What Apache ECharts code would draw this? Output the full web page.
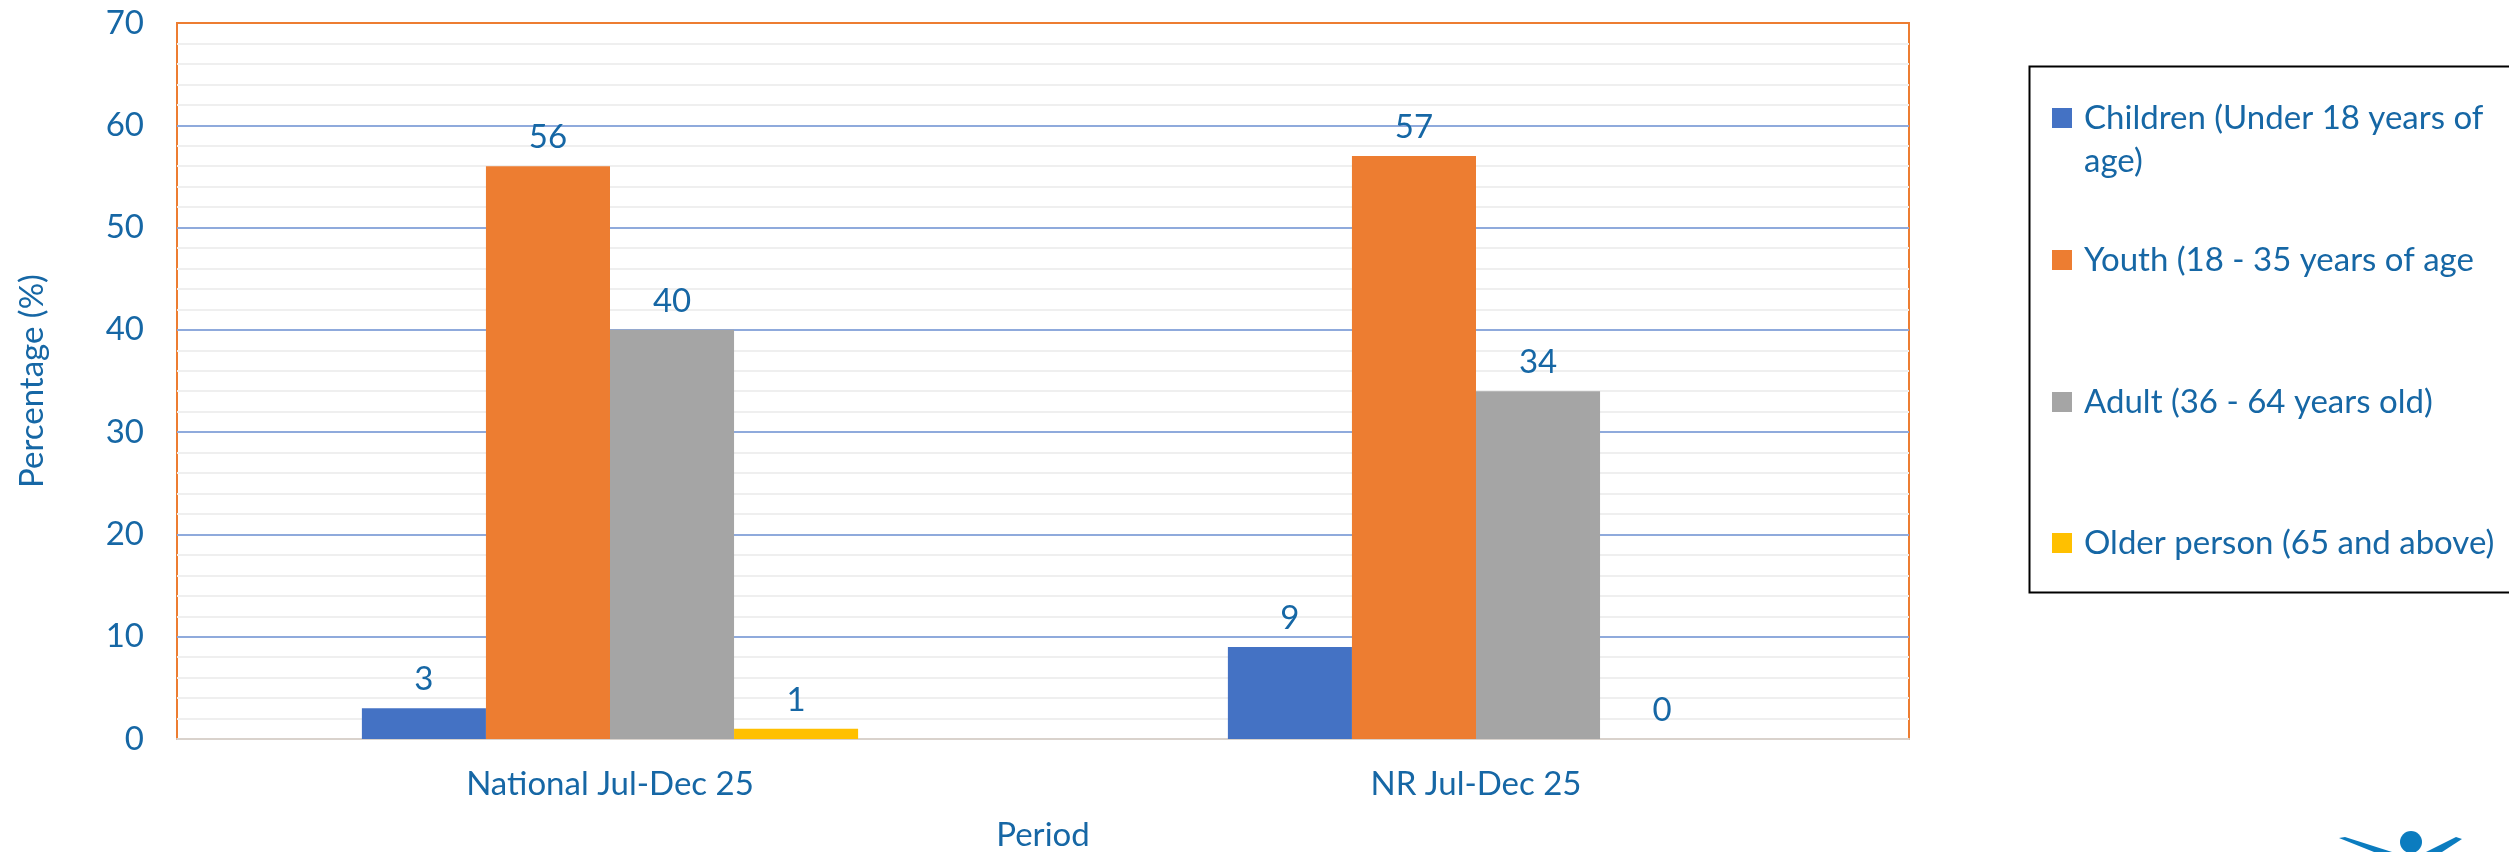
<!DOCTYPE html>
<html>
<head>
<meta charset="utf-8">
<script src="https://cdn.jsdelivr.net/npm/echarts@6/dist/echarts.min.js"></script>
<style>
  html, body { margin: 0; padding: 0; background: #fff; }
  #chart { width: 2509px; height: 852px; }
</style>
</head>
<body>
<div id="chart"></div>
<script>
const periods = ['National Jul-Dec 25', 'NR Jul-Dec 25'];
const groupNames = [
  'Children (Under 18 years of age)',
  'Youth (18 - 35 years of age',
  'Adult (36 - 64 years old)',
  'Older person (65 and above)'
];
const children = [3, 9];
const youth = [56, 57];
const adult = [40, 34];
const older = [1, 0];

const textBlue = '#1667a5';
const font = 'Lato';
const fs = 33;
const colors = ['#4472c4', '#ed7d31', '#a5a5a5', '#ffc000'];

const chart = echarts.init(document.getElementById('chart'), null, { renderer: 'canvas' });

function makeSeries(name, values, color) {
  return {
    name: name,
    type: 'bar',
    data: values,
    barGap: 0,
    barCategoryGap: '42.7%',
    itemStyle: { color: color },
    label: {
      show: true,
      position: 'top',
      distance: 12,
      fontFamily: font,
      fontSize: fs,
      color: textBlue
    }
  };
}

// one legend per item so each row sits where the original has it
const legendTops = [53.5, 238.5, 380.5, 521.5];
const legends = groupNames.map((n, i) => ({
  data: [n],
  orient: 'vertical',
  left: 2052,
  top: legendTops[i],
  padding: 0,
  itemWidth: 20,
  itemHeight: 20,
  icon: 'rect',
  formatter: (name) => i === 0 ? '\nChildren (Under 18 years of\nage)' : name,
  textStyle: { fontFamily: font, fontSize: fs, color: textBlue, lineHeight: 43, padding: [0, 0, 0, 7] }
}));

const option = {
  backgroundColor: '#fff',
  animation: false,
  legend: legends,
  grid: {
    left: 177, right: 600, top: 23, bottom: 113,
    outerBoundsMode: 'none',
    show: true,
    borderColor: '#ed7d31',
    borderWidth: 2
  },
  xAxis: {
    type: 'category',
    data: periods,
    name: 'Period',
    nameLocation: 'middle',
    nameGap: 80,
    nameTextStyle: { fontFamily: font, fontSize: fs, color: textBlue },
    axisLine: { show: true, lineStyle: { color: '#d9d2cc', width: 2 } },
    axisTick: { show: false },
    axisLabel: { fontFamily: font, fontSize: fs, color: textBlue, margin: 29 }
  },
  yAxis: {
    type: 'value',
    min: 0,
    max: 70,
    interval: 10,
    name: 'Percentage (%)',
    nameLocation: 'middle',
    nameGap: 128,
    nameTextStyle: { fontFamily: font, fontSize: fs, color: textBlue },
    axisLine: { show: false },
    axisTick: { show: false },
    axisLabel: { fontFamily: font, fontSize: fs, color: textBlue, margin: 33 },
    splitLine: { showMaxLine: false, showMinLine: false, lineStyle: { color: '#8faadc', width: 2 } },
    minorTick: { show: false, splitNumber: 5 },
    minorSplitLine: { show: true, lineStyle: { color: '#efefef', width: 2 } }
  },
  graphic: [
    {
      type: 'rect',
      left: 2027, top: 64,
      shape: { width: 600, height: 526 },
      style: { fill: 'none', stroke: '#000', lineWidth: 2 },
      z: -1
    },
    {
      type: 'group',
      children: [
        { type: 'circle', shape: { cx: 2411, cy: 842, r: 11 }, style: { fill: '#0b7cbf' } },
        { type: 'polygon', shape: { points: [[2339, 838], [2345, 837], [2392, 852], [2374, 852]] }, style: { fill: '#0b7cbf' } },
        { type: 'polygon', shape: { points: [[2456, 837], [2462, 839], [2442, 852], [2426, 852]] }, style: { fill: '#0b7cbf' } }
      ]
    }
  ],
  series: [
    makeSeries(groupNames[0], children, colors[0]),
    makeSeries(groupNames[1], youth, colors[1]),
    makeSeries(groupNames[2], adult, colors[2]),
    makeSeries(groupNames[3], older, colors[3])
  ]
};

chart.setOption(option);
window.addEventListener('resize', chart.resize);
</script>
</body>
</html>
